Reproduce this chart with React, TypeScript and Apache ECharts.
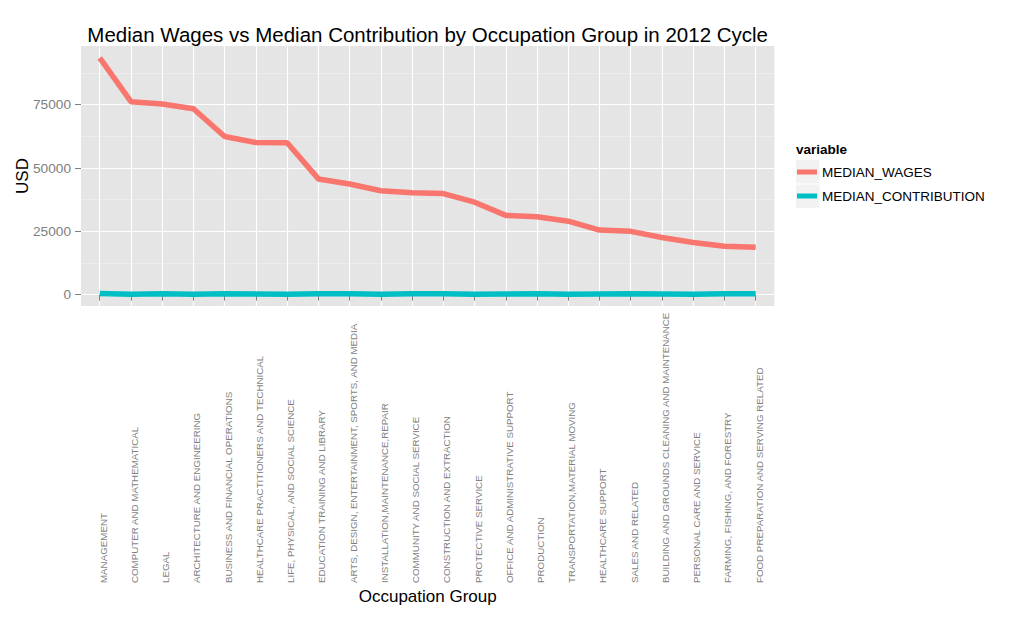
import React, { useEffect, useRef } from "react";
import * as echarts from "echarts";

const categories = [
  "MANAGEMENT",
  "COMPUTER AND MATHEMATICAL",
  "LEGAL",
  "ARCHITECTURE AND ENGINEERING",
  "BUSINESS AND FINANCIAL OPERATIONS",
  "HEALTHCARE PRACTITIONERS AND TECHNICAL",
  "LIFE, PHYSICAL, AND SOCIAL SCIENCE",
  "EDUCATION TRAINING AND LIBRARY",
  "ARTS, DESIGN, ENTERTAINMENT, SPORTS, AND MEDIA",
  "INSTALLATION,MAINTENANCE,REPAIR",
  "COMMUNITY AND SOCIAL SERVICE",
  "CONSTRUCTION AND EXTRACTION",
  "PROTECTIVE SERVICE",
  "OFFICE AND ADMINISTRATIVE SUPPORT",
  "PRODUCTION",
  "TRANSPORTATION,MATERIAL MOVING",
  "HEALTHCARE SUPPORT",
  "SALES AND RELATED",
  "BUILDING AND GROUNDS CLEANING AND MAINTENANCE",
  "PERSONAL CARE AND SERVICE",
  "FARMING, FISHING, AND FORESTRY",
  "FOOD PREPARATION AND SERVING RELATED",
];

const medianWages = [
  93500, 76200, 75300, 73400, 62450, 60100, 59950, 45700, 43700, 41050, 40250,
  39900, 36500, 31300, 30750, 29000, 25500, 25000, 22600, 20600, 19150, 18750,
];

const medianContribution = [
  500, 200, 400, 200, 400, 300, 200, 400, 400, 200, 400, 400, 200, 300, 400,
  200, 300, 400, 300, 200, 400, 400,
];

const yTicks = [0, 25000, 50000, 75000];
const yMinorTicks = [12500, 37500, 62500, 87500];

const seriesNames = ["MEDIAN_WAGES", "MEDIAN_CONTRIBUTION"];
const seriesColors = ["#F8766D", "#00BFC4"];

const FONT = "'Liberation Sans', Arial, Helvetica, sans-serif";
const GREY = "#7F7F7F";

export default function App() {
  const ref = useRef<HTMLDivElement>(null);

  useEffect(() => {
    if (!ref.current) return;
    const chart = echarts.init(ref.current, undefined, { renderer: "svg" });

    const all = [...medianWages, ...medianContribution];
    const lo = Math.min(...all);
    const hi = Math.max(...all);
    const pad = (hi - lo) * 0.05;
    const yMin = lo - pad;
    const yMax = hi + pad;

    const panelLeft = 81;
    const panelRight = 774.4;
    const panelTop = 46;
    const panelBottom = 306;
    const step = (panelRight - panelLeft) / (categories.length - 1 + 1.2);
    const firstX = panelLeft + 0.6 * step;
    const lastX = panelRight - 0.6 * step;

    const option: any = {
      animation: false,
      textStyle: { fontFamily: FONT },
      grid: [
        {
          left: panelLeft,
          top: panelTop,
          width: panelRight - panelLeft,
          height: panelBottom - panelTop,
          show: true,
          backgroundColor: "#E5E5E5",
          borderWidth: 0,
          containLabel: false,
          outerBoundsMode: "none",
        },
        {
          left: firstX,
          top: panelTop,
          width: lastX - firstX,
          height: panelBottom - panelTop,
          show: false,
          containLabel: false,
          outerBoundsMode: "none",
        },
      ],
      xAxis: [
        {
          gridIndex: 0,
          type: "value",
          min: 0,
          max: 1,
          show: false,
        },
        {
          gridIndex: 1,
          type: "category",
          data: categories,
          boundaryGap: false,
          z: 2,
          axisLine: { show: false },
          axisTick: {
            show: true,
            interval: 0,
            length: 6,
            lineStyle: { color: GREY, width: 1 },
          },
          axisLabel: {
            interval: 0,
            rotate: 90,
            align: "left",
            verticalAlign: "top",
            lineHeight: 7,
            margin: 277,
            fontSize: 9.75,
            color: GREY,
            fontFamily: FONT,
          },
          splitLine: {
            show: true,
            interval: 0,
            lineStyle: { color: "#FFFFFF", width: 1.1 },
          },
        },
      ],
      yAxis: [
        {
          gridIndex: 0,
          type: "value",
          min: yMin,
          max: yMax,
          axisLine: { show: false },
          axisTick: {
            show: true,
            length: 6,
            customValues: yTicks,
            lineStyle: { color: GREY, width: 1 },
          },
          axisLabel: {
            show: true,
            customValues: yTicks,
            margin: 10,
            fontSize: 13.7,
            color: GREY,
            fontFamily: FONT,
            formatter: (v: number) => String(v),
          },
          splitLine: { show: false },
        },
        {
          gridIndex: 1,
          type: "value",
          min: yMin,
          max: yMax,
          show: false,
          splitLine: { show: false },
        },
      ],
      legend: {
        data: seriesNames,
        orient: "vertical",
        left: 797,
        top: 160,
        padding: 0,
        itemGap: 0,
        itemWidth: 20,
        itemHeight: 5,
        icon: "rect",
        selectedMode: false,
        textStyle: {
          fontSize: 13.5,
          color: "#000000",
          lineHeight: 24,
          fontFamily: FONT,
        },
      },
      graphic: [
        {
          type: "text",
          x: (panelLeft + panelRight) / 2,
          y: 34,
          style: {
            text: "Median Wages vs Median Contribution by Occupation Group in 2012 Cycle",
            fontSize: 20.5,
            fill: "#000000",
            fontFamily: FONT,
            textAlign: "center",
            textVerticalAlign: "middle",
          },
        },
        {
          type: "text",
          x: 22.5,
          y: (panelTop + panelBottom) / 2,
          rotation: Math.PI / 2,
          style: {
            text: "USD",
            fontSize: 17,
            fill: "#000000",
            fontFamily: FONT,
            textAlign: "center",
            textVerticalAlign: "middle",
          },
        },
        {
          type: "text",
          x: (panelLeft + panelRight) / 2,
          y: 596,
          style: {
            text: "Occupation Group",
            fontSize: 17,
            fill: "#000000",
            fontFamily: FONT,
            textAlign: "center",
            textVerticalAlign: "middle",
          },
        },
        {
          type: "text",
          x: 796,
          y: 149,
          style: {
            text: "variable",
            fontSize: 13.5,
            fontWeight: "bold",
            fill: "#000000",
            fontFamily: FONT,
            textAlign: "left",
            textVerticalAlign: "middle",
          },
        },
        {
          type: "rect",
          shape: { x: 796, y: 160, width: 23.5, height: 23.5 },
          style: { fill: "#F2F2F2" },
          z: -1,
        },
        {
          type: "rect",
          shape: { x: 796, y: 184.5, width: 23.5, height: 23.5 },
          style: { fill: "#F2F2F2" },
          z: -1,
        },
      ],
      series: [
        {
          name: "__grid",
          type: "line",
          xAxisIndex: 0,
          yAxisIndex: 0,
          data: [[0, 0]],
          showSymbol: false,
          symbol: "none",
          lineStyle: { opacity: 0 },
          silent: true,
          z: 1,
          markLine: {
            z: 1,
            silent: true,
            symbol: ["none", "none"],
            label: { show: false },
            emphasis: { disabled: true },
            animation: false,
            data: [
              ...yMinorTicks.map((v) => ({
                yAxis: v,
                lineStyle: { color: "#F2F2F2", width: 0.6, type: "solid" },
              })),
              ...yTicks.map((v) => ({
                yAxis: v,
                lineStyle: { color: "#FFFFFF", width: 1.1, type: "solid" },
              })),
            ],
          },
        },
        {
          name: seriesNames[0],
          type: "line",
          xAxisIndex: 1,
          yAxisIndex: 1,
          data: medianWages,
          symbol: "none",
          showSymbol: false,
          color: seriesColors[0],
          itemStyle: { color: seriesColors[0] },
          lineStyle: { color: seriesColors[0], width: 5.5 },
          emphasis: { disabled: true },
          z: 10,
        },
        {
          name: seriesNames[1],
          type: "line",
          xAxisIndex: 1,
          yAxisIndex: 1,
          data: medianContribution,
          symbol: "none",
          showSymbol: false,
          color: seriesColors[1],
          itemStyle: { color: seriesColors[1] },
          lineStyle: { color: seriesColors[1], width: 5.5 },
          emphasis: { disabled: true },
          z: 10,
        },
      ],
    };

    chart.setOption(option);
    return () => {
      chart.dispose();
    };
  }, []);

  return (
    <div
      ref={ref}
      style={{
        position: "fixed",
        left: 0,
        top: 0,
        width: 1030,
        height: 618,
        background: "#FFFFFF",
      }}
    />
  );
}
